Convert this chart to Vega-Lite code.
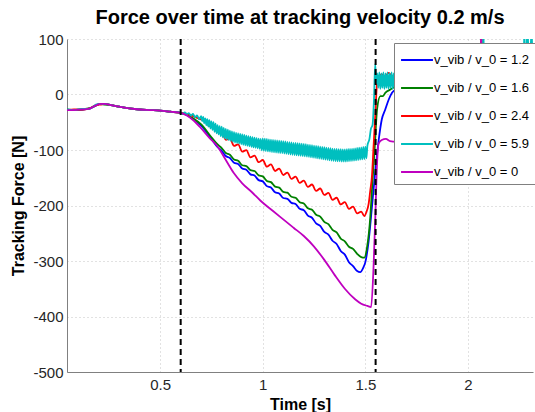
{
"$schema":"https://vega.github.io/schema/vega-lite/v6.json",
"width":466,"height":333,
"autosize":{"type":"none"},
"padding":{"left":67,"top":39,"right":2,"bottom":40},
"title":{"text":"Force over time at tracking velocity 0.2 m/s","fontSize":20,"fontWeight":"bold","font":"Liberation Sans","color":"black","anchor":"middle","offset":4},
"config":{"view":{"stroke":null},
"axis":{"labelFont":"Liberation Sans","labelFontSize":15,"labelColor":"#262626","titleFont":"Liberation Sans","titleFontSize":16,"titleFontWeight":"bold","titleColor":"black","domainColor":"#808080","domainWidth":1,"ticks":false,"tickSize":0,"gridColor":"#c4c4c4","gridDash":[1,3],"gridWidth":1}},
"datasets":{
"curves":[
{"t":0.046,"F":-28,"s":"A"},{"t":0.08,"F":-28,"s":"A"},{"t":0.12,"F":-27,"s":"A"},{"t":0.15,"F":-26,"s":"A"},{"t":0.17,"F":-23,"s":"A"},{"t":0.19,"F":-19,"s":"A"},{"t":0.21,"F":-17,"s":"A"},{"t":0.23,"F":-17,"s":"A"},{"t":0.26,"F":-19,"s":"A"},{"t":0.30,"F":-22,"s":"A"},{"t":0.35,"F":-25,"s":"A"},{"t":0.40,"F":-27,"s":"A"},{"t":0.45,"F":-28,"s":"A"},{"t":0.50,"F":-29,"s":"A"},{"t":0.55,"F":-31,"s":"A"},{"t":0.60,"F":-33,"s":"A"},
{"t":0.63,"F":-37,"s":"A"},{"t":0.66,"F":-44,"s":"A"},{"t":0.70,"F":-56,"s":"A"},{"t":0.75,"F":-80,"s":"A"},{"t":0.78,"F":-95,"s":"A"},
{"t":0.80,"F":-101.5,"s":"A"},{"t":0.82,"F":-110.9,"s":"A"},{"t":0.84,"F":-114.3,"s":"A"},{"t":0.86,"F":-123.1,"s":"A"},{"t":0.88,"F":-125.3,"s":"A"},{"t":0.90,"F":-133.5,"s":"A"},{"t":0.92,"F":-135.7,"s":"A"},{"t":0.94,"F":-143.9,"s":"A"},{"t":0.96,"F":-146.1,"s":"A"},{"t":0.98,"F":-154.3,"s":"A"},{"t":1.00,"F":-156.5,"s":"A"},{"t":1.02,"F":-165.1,"s":"A"},{"t":1.04,"F":-167.7,"s":"A"},{"t":1.06,"F":-176.1,"s":"A"},{"t":1.08,"F":-178.3,"s":"A"},{"t":1.10,"F":-186.5,"s":"A"},{"t":1.12,"F":-187.9,"s":"A"},{"t":1.14,"F":-195.3,"s":"A"},{"t":1.16,"F":-197.3,"s":"A"},{"t":1.18,"F":-205.9,"s":"A"},{"t":1.20,"F":-208.5,"s":"A"},{"t":1.22,"F":-218.3,"s":"A"},{"t":1.24,"F":-222.1,"s":"A"},{"t":1.26,"F":-232.3,"s":"A"},{"t":1.28,"F":-236.9,"s":"A"},{"t":1.30,"F":-247.5,"s":"A"},{"t":1.32,"F":-252.5,"s":"A"},{"t":1.34,"F":-263.5,"s":"A"},{"t":1.36,"F":-269.3,"s":"A"},{"t":1.38,"F":-281.9,"s":"A"},{"t":1.40,"F":-288.5,"s":"A"},{"t":1.42,"F":-302.2,"s":"A"},{"t":1.44,"F":-309.2,"s":"A"},
{"t":1.46,"F":-318,"s":"A"},{"t":1.475,"F":-320,"s":"A"},{"t":1.49,"F":-312,"s":"A"},{"t":1.50,"F":-302,"s":"A"},{"t":1.516,"F":-264,"s":"A"},{"t":1.532,"F":-203,"s":"A"},{"t":1.549,"F":-136,"s":"A"},{"t":1.565,"F":-82,"s":"A"},{"t":1.58,"F":-45,"s":"A"},{"t":1.597,"F":-27,"s":"A"},{"t":1.614,"F":-9,"s":"A"},{"t":1.63,"F":3,"s":"A"},{"t":1.65,"F":10,"s":"A"},{"t":1.70,"F":18,"s":"A"},{"t":1.80,"F":20,"s":"A"},{"t":1.90,"F":22,"s":"A"},{"t":2.00,"F":20,"s":"A"},{"t":2.10,"F":21,"s":"A"},{"t":2.20,"F":22,"s":"A"},{"t":2.317,"F":20,"s":"A"},

{"t":0.046,"F":-27,"s":"B"},{"t":0.08,"F":-28,"s":"B"},{"t":0.12,"F":-27,"s":"B"},{"t":0.15,"F":-25,"s":"B"},{"t":0.17,"F":-23,"s":"B"},{"t":0.19,"F":-19,"s":"B"},{"t":0.21,"F":-17,"s":"B"},{"t":0.23,"F":-18,"s":"B"},{"t":0.26,"F":-19,"s":"B"},{"t":0.30,"F":-22,"s":"B"},{"t":0.35,"F":-25,"s":"B"},{"t":0.40,"F":-27,"s":"B"},{"t":0.45,"F":-28,"s":"B"},{"t":0.50,"F":-29,"s":"B"},{"t":0.55,"F":-31,"s":"B"},{"t":0.60,"F":-33,"s":"B"},
{"t":0.63,"F":-37,"s":"B"},{"t":0.66,"F":-43,"s":"B"},{"t":0.70,"F":-54,"s":"B"},{"t":0.75,"F":-77,"s":"B"},{"t":0.78,"F":-90,"s":"B"},
{"t":0.80,"F":-96.5,"s":"B"},{"t":0.82,"F":-105.5,"s":"B"},{"t":0.84,"F":-108.5,"s":"B"},{"t":0.86,"F":-117.1,"s":"B"},{"t":0.88,"F":-119.3,"s":"B"},{"t":0.90,"F":-127.5,"s":"B"},{"t":0.92,"F":-128.9,"s":"B"},{"t":0.94,"F":-136.3,"s":"B"},{"t":0.96,"F":-137.9,"s":"B"},{"t":0.98,"F":-145.7,"s":"B"},{"t":1.00,"F":-147.5,"s":"B"},{"t":1.02,"F":-155.7,"s":"B"},{"t":1.04,"F":-157.9,"s":"B"},{"t":1.06,"F":-165.9,"s":"B"},{"t":1.08,"F":-167.7,"s":"B"},{"t":1.10,"F":-175.5,"s":"B"},{"t":1.12,"F":-176.9,"s":"B"},{"t":1.14,"F":-184.3,"s":"B"},{"t":1.16,"F":-186.1,"s":"B"},{"t":1.18,"F":-194.3,"s":"B"},{"t":1.20,"F":-196.5,"s":"B"},{"t":1.22,"F":-205.1,"s":"B"},{"t":1.24,"F":-207.7,"s":"B"},{"t":1.26,"F":-216.7,"s":"B"},{"t":1.28,"F":-220.1,"s":"B"},{"t":1.30,"F":-229.5,"s":"B"},{"t":1.32,"F":-233.7,"s":"B"},{"t":1.34,"F":-243.9,"s":"B"},{"t":1.36,"F":-248.5,"s":"B"},{"t":1.38,"F":-259.5,"s":"B"},{"t":1.40,"F":-264.5,"s":"B"},{"t":1.42,"F":-274.3,"s":"B"},{"t":1.44,"F":-278.1,"s":"B"},
{"t":1.46,"F":-287,"s":"B"},{"t":1.48,"F":-293,"s":"B"},{"t":1.495,"F":-294,"s":"B"},{"t":1.508,"F":-276,"s":"B"},{"t":1.524,"F":-221,"s":"B"},{"t":1.532,"F":-173,"s":"B"},{"t":1.546,"F":-94,"s":"B"},{"t":1.557,"F":-27,"s":"B"},{"t":1.573,"F":-3,"s":"B"},{"t":1.585,"F":-3,"s":"B"},{"t":1.597,"F":3,"s":"B"},{"t":1.622,"F":9,"s":"B"},{"t":1.65,"F":15,"s":"B"},{"t":1.70,"F":18,"s":"B"},{"t":1.80,"F":20,"s":"B"},{"t":1.90,"F":20,"s":"B"},{"t":2.00,"F":22,"s":"B"},{"t":2.10,"F":20,"s":"B"},{"t":2.20,"F":20,"s":"B"},{"t":2.317,"F":22,"s":"B"},

{"t":0.046,"F":-28,"s":"C"},{"t":0.08,"F":-27,"s":"C"},{"t":0.12,"F":-27,"s":"C"},{"t":0.15,"F":-26,"s":"C"},{"t":0.17,"F":-22,"s":"C"},{"t":0.19,"F":-19,"s":"C"},{"t":0.21,"F":-18,"s":"C"},{"t":0.23,"F":-17,"s":"C"},{"t":0.26,"F":-19,"s":"C"},{"t":0.30,"F":-22,"s":"C"},{"t":0.35,"F":-25,"s":"C"},{"t":0.40,"F":-27,"s":"C"},{"t":0.45,"F":-28,"s":"C"},{"t":0.50,"F":-29,"s":"C"},{"t":0.55,"F":-31,"s":"C"},{"t":0.60,"F":-33,"s":"C"},
{"t":0.63,"F":-35,"s":"C"},{"t":0.66,"F":-39,"s":"C"},{"t":0.70,"F":-45,"s":"C"},{"t":0.72,"F":-48,"s":"C"},{"t":0.74,"F":-57,"s":"C"},{"t":0.76,"F":-58,"s":"C"},{"t":0.78,"F":-68,"s":"C"},
{"t":0.80,"F":-68,"s":"C"},{"t":0.82,"F":-81.6,"s":"C"},{"t":0.84,"F":-79.2,"s":"C"},{"t":0.86,"F":-92.6,"s":"C"},{"t":0.88,"F":-89.8,"s":"C"},{"t":0.90,"F":-103,"s":"C"},{"t":0.92,"F":-100.2,"s":"C"},{"t":0.94,"F":-113.4,"s":"C"},{"t":0.96,"F":-110,"s":"C"},{"t":0.98,"F":-122,"s":"C"},{"t":1.00,"F":-118,"s":"C"},{"t":1.02,"F":-130,"s":"C"},{"t":1.04,"F":-126,"s":"C"},{"t":1.06,"F":-137.8,"s":"C"},{"t":1.08,"F":-133.4,"s":"C"},{"t":1.10,"F":-145,"s":"C"},{"t":1.12,"F":-140.6,"s":"C"},{"t":1.14,"F":-152.2,"s":"C"},{"t":1.16,"F":-147.8,"s":"C"},{"t":1.18,"F":-159.4,"s":"C"},{"t":1.20,"F":-155,"s":"C"},{"t":1.22,"F":-166.6,"s":"C"},{"t":1.24,"F":-162.2,"s":"C"},{"t":1.26,"F":-173.8,"s":"C"},{"t":1.28,"F":-169.4,"s":"C"},{"t":1.30,"F":-181,"s":"C"},{"t":1.32,"F":-177.4,"s":"C"},{"t":1.34,"F":-189.8,"s":"C"},{"t":1.36,"F":-186,"s":"C"},{"t":1.38,"F":-198,"s":"C"},{"t":1.40,"F":-194,"s":"C"},{"t":1.42,"F":-206,"s":"C"},{"t":1.44,"F":-202,"s":"C"},{"t":1.46,"F":-214.3,"s":"C"},{"t":1.48,"F":-211,"s":"C"},
{"t":1.495,"F":-219,"s":"C"},{"t":1.505,"F":-212,"s":"C"},{"t":1.516,"F":-197,"s":"C"},{"t":1.524,"F":-173,"s":"C"},{"t":1.532,"F":-148,"s":"C"},{"t":1.54,"F":-94,"s":"C"},{"t":1.549,"F":-33,"s":"C"},{"t":1.557,"F":21,"s":"C"},{"t":1.565,"F":33,"s":"C"},{"t":1.58,"F":36,"s":"C"},{"t":1.595,"F":32,"s":"C"},{"t":1.614,"F":39,"s":"C"},{"t":1.63,"F":33,"s":"C"},{"t":1.65,"F":35,"s":"C"},{"t":1.70,"F":35,"s":"C"},{"t":1.80,"F":32,"s":"C"},{"t":1.90,"F":34,"s":"C"},{"t":2.00,"F":33,"s":"C"},{"t":2.06,"F":35,"s":"C"},{"t":2.066,"F":120,"s":"C"},{"t":2.072,"F":35,"s":"C"},{"t":2.20,"F":33,"s":"C"},{"t":2.317,"F":34,"s":"C"},

{"t":0.046,"F":-27,"s":"D"},{"t":0.08,"F":-28,"s":"D"},{"t":0.12,"F":-26,"s":"D"},{"t":0.15,"F":-26,"s":"D"},{"t":0.17,"F":-23,"s":"D"},{"t":0.19,"F":-18,"s":"D"},{"t":0.21,"F":-17,"s":"D"},{"t":0.23,"F":-17,"s":"D"},{"t":0.26,"F":-19,"s":"D"},{"t":0.30,"F":-22,"s":"D"},{"t":0.35,"F":-25,"s":"D"},{"t":0.40,"F":-27,"s":"D"},{"t":0.45,"F":-28,"s":"D"},{"t":0.50,"F":-29,"s":"D"},{"t":0.55,"F":-31,"s":"D"},{"t":0.60,"F":-33,"s":"D"},
{"t":0.61,"F":-34.8,"s":"D"},{"t":0.62,"F":-32.2,"s":"D"},{"t":0.63,"F":-35.5,"s":"D"},{"t":0.64,"F":-33.5,"s":"D"},{"t":0.65,"F":-38,"s":"D"},{"t":0.66,"F":-35,"s":"D"},{"t":0.67,"F":-41,"s":"D"},{"t":0.68,"F":-37.5,"s":"D"},{"t":0.69,"F":-44.5,"s":"D"},
{"t":0.70,"F":-39,"s":"D"},{"t":0.705,"F":-48.3,"s":"D"},{"t":0.71,"F":-40.5,"s":"D"},{"t":0.715,"F":-51.8,"s":"D"},{"t":0.72,"F":-43,"s":"D"},{"t":0.725,"F":-55.2,"s":"D"},{"t":0.73,"F":-44.5,"s":"D"},{"t":0.735,"F":-57.8,"s":"D"},{"t":0.74,"F":-46,"s":"D"},{"t":0.745,"F":-61.3,"s":"D"},{"t":0.75,"F":-48.5,"s":"D"},{"t":0.755,"F":-63.8,"s":"D"},{"t":0.76,"F":-50,"s":"D"},{"t":0.765,"F":-67.3,"s":"D"},{"t":0.77,"F":-52.5,"s":"D"},{"t":0.775,"F":-69.8,"s":"D"},{"t":0.78,"F":-55,"s":"D"},{"t":0.785,"F":-72,"s":"D"},{"t":0.79,"F":-57,"s":"D"},{"t":0.795,"F":-75,"s":"D"},
{"t":0.80,"F":-58,"s":"D"},{"t":0.805,"F":-77,"s":"D"},{"t":0.81,"F":-60,"s":"D"},{"t":0.815,"F":-79,"s":"D"},{"t":0.82,"F":-62,"s":"D"},{"t":0.825,"F":-80.8,"s":"D"},{"t":0.83,"F":-63.5,"s":"D"},{"t":0.835,"F":-82.3,"s":"D"},{"t":0.84,"F":-65,"s":"D"},{"t":0.845,"F":-83.8,"s":"D"},{"t":0.85,"F":-66.5,"s":"D"},{"t":0.855,"F":-85.3,"s":"D"},{"t":0.86,"F":-68,"s":"D"},{"t":0.865,"F":-86.5,"s":"D"},{"t":0.87,"F":-69,"s":"D"},{"t":0.875,"F":-87.5,"s":"D"},{"t":0.88,"F":-70,"s":"D"},{"t":0.885,"F":-88.5,"s":"D"},{"t":0.89,"F":-71,"s":"D"},{"t":0.895,"F":-89.5,"s":"D"},{"t":0.90,"F":-72,"s":"D"},{"t":0.905,"F":-90.5,"s":"D"},{"t":0.91,"F":-73,"s":"D"},{"t":0.915,"F":-91.5,"s":"D"},{"t":0.92,"F":-74,"s":"D"},{"t":0.925,"F":-92.5,"s":"D"},{"t":0.93,"F":-75,"s":"D"},{"t":0.935,"F":-93.5,"s":"D"},{"t":0.94,"F":-76,"s":"D"},{"t":0.945,"F":-94.5,"s":"D"},{"t":0.95,"F":-77,"s":"D"},{"t":0.955,"F":-95.4,"s":"D"},{"t":0.96,"F":-77.8,"s":"D"},{"t":0.965,"F":-96.2,"s":"D"},{"t":0.97,"F":-78.6,"s":"D"},{"t":0.975,"F":-97,"s":"D"},{"t":0.98,"F":-79.4,"s":"D"},{"t":0.985,"F":-97.8,"s":"D"},{"t":0.99,"F":-80.2,"s":"D"},{"t":0.995,"F":-100.6,"s":"D"},
{"t":1.00,"F":-79,"s":"D"},{"t":1.005,"F":-101.3,"s":"D"},{"t":1.01,"F":-79.6,"s":"D"},{"t":1.015,"F":-101.9,"s":"D"},{"t":1.02,"F":-80.2,"s":"D"},{"t":1.025,"F":-102.5,"s":"D"},{"t":1.03,"F":-80.8,"s":"D"},{"t":1.035,"F":-103.1,"s":"D"},{"t":1.04,"F":-81.4,"s":"D"},{"t":1.045,"F":-103.7,"s":"D"},{"t":1.05,"F":-82,"s":"D"},{"t":1.055,"F":-104.2,"s":"D"},{"t":1.06,"F":-82.4,"s":"D"},{"t":1.065,"F":-104.6,"s":"D"},{"t":1.07,"F":-82.8,"s":"D"},{"t":1.075,"F":-105,"s":"D"},{"t":1.08,"F":-83.2,"s":"D"},{"t":1.085,"F":-105.4,"s":"D"},{"t":1.09,"F":-83.6,"s":"D"},{"t":1.095,"F":-105.8,"s":"D"},{"t":1.10,"F":-84,"s":"D"},{"t":1.105,"F":-106.3,"s":"D"},{"t":1.11,"F":-84.6,"s":"D"},{"t":1.115,"F":-106.9,"s":"D"},{"t":1.12,"F":-85.2,"s":"D"},{"t":1.125,"F":-107.5,"s":"D"},{"t":1.13,"F":-85.8,"s":"D"},{"t":1.135,"F":-108.1,"s":"D"},{"t":1.14,"F":-86.4,"s":"D"},{"t":1.145,"F":-108.7,"s":"D"},{"t":1.15,"F":-87,"s":"D"},{"t":1.155,"F":-109.2,"s":"D"},{"t":1.16,"F":-87.4,"s":"D"},{"t":1.165,"F":-109.6,"s":"D"},{"t":1.17,"F":-87.8,"s":"D"},{"t":1.175,"F":-110,"s":"D"},{"t":1.18,"F":-88.2,"s":"D"},{"t":1.185,"F":-110.4,"s":"D"},{"t":1.19,"F":-88.6,"s":"D"},{"t":1.195,"F":-110.8,"s":"D"},{"t":1.20,"F":-89,"s":"D"},{"t":1.205,"F":-111.3,"s":"D"},{"t":1.21,"F":-89.6,"s":"D"},{"t":1.215,"F":-111.9,"s":"D"},{"t":1.22,"F":-90.2,"s":"D"},{"t":1.225,"F":-112.5,"s":"D"},{"t":1.23,"F":-90.8,"s":"D"},{"t":1.235,"F":-113.1,"s":"D"},{"t":1.24,"F":-91.4,"s":"D"},{"t":1.245,"F":-113.7,"s":"D"},{"t":1.25,"F":-92,"s":"D"},{"t":1.255,"F":-114.3,"s":"D"},{"t":1.26,"F":-92.6,"s":"D"},{"t":1.265,"F":-114.9,"s":"D"},{"t":1.27,"F":-93.2,"s":"D"},{"t":1.275,"F":-115.5,"s":"D"},{"t":1.28,"F":-93.8,"s":"D"},{"t":1.285,"F":-116.1,"s":"D"},{"t":1.29,"F":-94.4,"s":"D"},{"t":1.295,"F":-116.7,"s":"D"},{"t":1.30,"F":-95,"s":"D"},{"t":1.305,"F":-117.3,"s":"D"},{"t":1.31,"F":-95.6,"s":"D"},{"t":1.315,"F":-117.9,"s":"D"},{"t":1.32,"F":-96.2,"s":"D"},{"t":1.325,"F":-118.5,"s":"D"},{"t":1.33,"F":-96.8,"s":"D"},{"t":1.335,"F":-119.1,"s":"D"},{"t":1.34,"F":-97.4,"s":"D"},{"t":1.345,"F":-119.7,"s":"D"},{"t":1.35,"F":-98,"s":"D"},{"t":1.355,"F":-120.1,"s":"D"},{"t":1.36,"F":-98.2,"s":"D"},{"t":1.365,"F":-120.3,"s":"D"},{"t":1.37,"F":-98.4,"s":"D"},{"t":1.375,"F":-120.5,"s":"D"},{"t":1.38,"F":-98.6,"s":"D"},{"t":1.385,"F":-120.7,"s":"D"},{"t":1.39,"F":-98.8,"s":"D"},{"t":1.395,"F":-120.9,"s":"D"},{"t":1.40,"F":-99,"s":"D"},{"t":1.405,"F":-120.8,"s":"D"},{"t":1.41,"F":-98.6,"s":"D"},{"t":1.415,"F":-120.4,"s":"D"},{"t":1.42,"F":-98.2,"s":"D"},{"t":1.425,"F":-120,"s":"D"},{"t":1.43,"F":-97.8,"s":"D"},{"t":1.435,"F":-119.6,"s":"D"},{"t":1.44,"F":-97.4,"s":"D"},{"t":1.445,"F":-119.2,"s":"D"},{"t":1.45,"F":-97,"s":"D"},{"t":1.455,"F":-118.7,"s":"D"},{"t":1.46,"F":-96.4,"s":"D"},{"t":1.465,"F":-118.1,"s":"D"},{"t":1.47,"F":-95.8,"s":"D"},{"t":1.475,"F":-117.5,"s":"D"},{"t":1.48,"F":-95.2,"s":"D"},{"t":1.485,"F":-116.9,"s":"D"},{"t":1.49,"F":-94.6,"s":"D"},{"t":1.495,"F":-116.3,"s":"D"},{"t":1.50,"F":-94,"s":"D"},{"t":1.505,"F":-115,"s":"D"},{"t":1.51,"F":-92,"s":"D"},
{"t":1.52,"F":-80,"s":"D"},{"t":1.527,"F":-62,"s":"D"},{"t":1.535,"F":-55,"s":"D"},{"t":1.542,"F":-10,"s":"D"},{"t":1.548,"F":55,"s":"D"},{"t":1.553,"F":20,"s":"D"},{"t":1.558,"F":38,"s":"D"},{"t":1.563,"F":12,"s":"D"},{"t":1.568,"F":40,"s":"D"},{"t":1.573,"F":10,"s":"D"},{"t":1.578,"F":38,"s":"D"},{"t":1.583,"F":12,"s":"D"},{"t":1.588,"F":40,"s":"D"},{"t":1.593,"F":10,"s":"D"},{"t":1.598,"F":38,"s":"D"},{"t":1.603,"F":12,"s":"D"},{"t":1.608,"F":40,"s":"D"},{"t":1.613,"F":10,"s":"D"},{"t":1.618,"F":38,"s":"D"},{"t":1.623,"F":12,"s":"D"},{"t":1.628,"F":40,"s":"D"},{"t":1.633,"F":10,"s":"D"},{"t":1.638,"F":38,"s":"D"},{"t":1.643,"F":12,"s":"D"},{"t":1.65,"F":30,"s":"D"},{"t":1.70,"F":25,"s":"D"},{"t":1.80,"F":28,"s":"D"},{"t":1.90,"F":24,"s":"D"},{"t":2.00,"F":27,"s":"D"},{"t":2.07,"F":26,"s":"D"},{"t":2.075,"F":120,"s":"D"},{"t":2.08,"F":26,"s":"D"},{"t":2.20,"F":25,"s":"D"},{"t":2.27,"F":26,"s":"D"},{"t":2.275,"F":120,"s":"D"},{"t":2.28,"F":26,"s":"D"},{"t":2.29,"F":120,"s":"D"},{"t":2.30,"F":26,"s":"D"},{"t":2.31,"F":120,"s":"D"},{"t":2.317,"F":26,"s":"D"},

{"t":0.046,"F":-28,"s":"E"},{"t":0.08,"F":-28,"s":"E"},{"t":0.12,"F":-27,"s":"E"},{"t":0.15,"F":-26,"s":"E"},{"t":0.17,"F":-23,"s":"E"},{"t":0.19,"F":-19,"s":"E"},{"t":0.21,"F":-17,"s":"E"},{"t":0.23,"F":-17,"s":"E"},{"t":0.26,"F":-19,"s":"E"},{"t":0.30,"F":-22,"s":"E"},{"t":0.35,"F":-25,"s":"E"},{"t":0.40,"F":-27,"s":"E"},{"t":0.45,"F":-28,"s":"E"},{"t":0.50,"F":-29,"s":"E"},{"t":0.55,"F":-31,"s":"E"},{"t":0.60,"F":-33,"s":"E"},
{"t":0.63,"F":-38,"s":"E"},{"t":0.66,"F":-46,"s":"E"},{"t":0.695,"F":-59,"s":"E"},{"t":0.74,"F":-78,"s":"E"},{"t":0.776,"F":-92,"s":"E"},{"t":0.82,"F":-118,"s":"E"},{"t":0.858,"F":-141,"s":"E"},{"t":0.90,"F":-160,"s":"E"},{"t":0.95,"F":-177,"s":"E"},{"t":0.988,"F":-191,"s":"E"},{"t":1.05,"F":-210,"s":"E"},{"t":1.10,"F":-225,"s":"E"},{"t":1.15,"F":-240,"s":"E"},{"t":1.20,"F":-255,"s":"E"},{"t":1.25,"F":-274,"s":"E"},{"t":1.30,"F":-298,"s":"E"},{"t":1.35,"F":-325,"s":"E"},{"t":1.40,"F":-350,"s":"E"},{"t":1.45,"F":-369,"s":"E"},{"t":1.48,"F":-377,"s":"E"},{"t":1.51,"F":-381,"s":"E"},{"t":1.528,"F":-383,"s":"E"},{"t":1.54,"F":-310,"s":"E"},{"t":1.549,"F":-215,"s":"E"},{"t":1.557,"F":-124,"s":"E"},{"t":1.565,"F":-88,"s":"E"},{"t":1.58,"F":-82,"s":"E"},{"t":1.60,"F":-80,"s":"E"},{"t":1.62,"F":-84,"s":"E"},{"t":1.65,"F":-85,"s":"E"},{"t":1.70,"F":-85,"s":"E"},{"t":1.80,"F":-84,"s":"E"},{"t":1.90,"F":-85,"s":"E"},{"t":2.00,"F":-84,"s":"E"},{"t":2.06,"F":-80,"s":"E"},{"t":2.064,"F":120,"s":"E"},{"t":2.068,"F":-80,"s":"E"},{"t":2.317,"F":-82,"s":"E"}
],
"markers":[{"t":0.6},{"t":1.55}]
},
"layer":[
{"data":{"name":"curves"},
"mark":{"type":"line","clip":true,"strokeWidth":1.8,"interpolate":"monotone"},
"encoding":{
"x":{"field":"t","type":"quantitative","scale":{"domain":[0.046,2.317],"nice":false,"zero":false},
"axis":{"title":"Time [s]","values":[0.5,1,1.5,2],"labelExpr":"'' + datum.value","labelPadding":5,"titlePadding":4}},
"y":{"field":"F","type":"quantitative","scale":{"domain":[-500,100],"nice":false},
"axis":{"title":"Tracking Force [N]","values":[-500,-400,-300,-200,-100,0,100],"labelExpr":"'' + datum.value","labelPadding":4,"titlePadding":6}},
"color":{"field":"s","type":"nominal",
"scale":{"domain":["A","B","C","D","E"],"range":["#0000FF","#008000","#FF0000","#00BFBF","#BF00BF"]},
"legend":{"orient":"none","legendX":327,"legendY":4,"direction":"vertical","title":null,"fillColor":"white","strokeColor":"#808080","padding":5,"symbolType":"M-1.45,0H1.45","symbolSize":484,"symbolStrokeWidth":2,"symbolOffset":6,"labelFont":"Liberation Sans","labelFontSize":13,"labelColor":"black","labelOffset":5,"labelLimit":0,"rowPadding":9,
"labelExpr":"'v_vib / v_0 = ' + (datum.value == 'A' ? '1.2' : datum.value == 'B' ? '1.6' : datum.value == 'C' ? '2.4' : datum.value == 'D' ? '5.9' : '0')"}}
}},
{"data":{"name":"markers"},
"mark":{"type":"rule","color":"black","strokeDash":[6,4],"strokeWidth":2},
"encoding":{"x":{"field":"t","type":"quantitative"}}}
]
}
